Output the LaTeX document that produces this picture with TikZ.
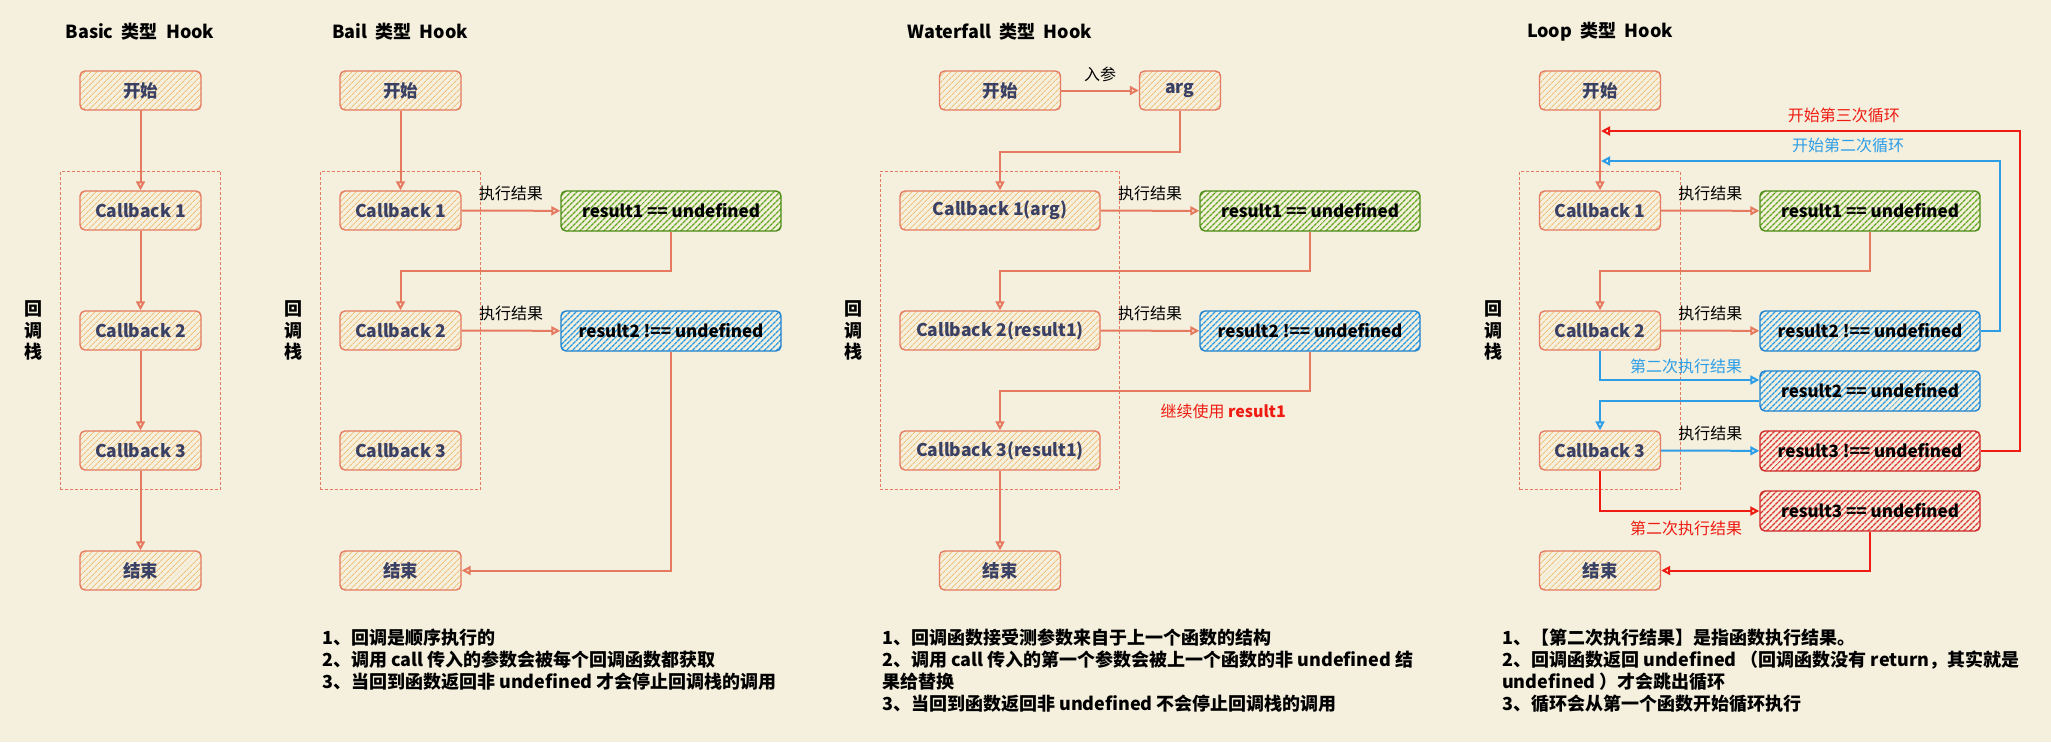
\documentclass[tikz,border=0pt]{standalone}
\usepackage{fontspec}
\setmainfont{Noto Sans CJK SC}
\usetikzlibrary{positioning,fit,patterns.meta,arrows.meta}

\definecolor{paper}{HTML}{F5F0DE}
\definecolor{salmon}{HTML}{E57A60}
\definecolor{hatch}{HTML}{F0BE78}
\definecolor{ink}{HTML}{3A4064}
\definecolor{greenline}{HTML}{4A8A14}
\definecolor{greenhatch}{HTML}{64A822}
\definecolor{blueline}{HTML}{1B80D0}
\definecolor{bluehatch}{HTML}{2A9AE2}
\definecolor{redline}{HTML}{D02626}
\definecolor{redhatch}{HTML}{E03434}
\definecolor{loopred}{HTML}{EE1C12}
\definecolor{loopblue}{HTML}{2D9DE6}

\tikzset{
  hook/.style={draw=salmon, line width=1.4pt, rounded corners=5pt,
    minimum width=121pt, minimum height=39pt, inner sep=0pt,
    pattern={Lines[angle=45,distance=4pt,line width=0.9pt]}, pattern color=hatch,
    text=ink, font=\bfseries\fontsize{17.5}{20}\selectfont},
  result/.style={draw=#1line, line width=1.4pt, rounded corners=5pt,
    minimum width=220pt, minimum height=40pt, inner sep=0pt,
    pattern={Lines[angle=45,distance=4pt,line width=1.5pt]}, pattern color=#1hatch,
    text=black, font=\bfseries\fontsize{17}{20}\selectfont},
  stack/.style={draw=salmon, line width=0.9pt, dash pattern=on 3pt off 2pt,
    inner xsep=19pt, inner ysep=19pt},
  stacklbl/.style={font=\bfseries\fontsize{18}{21.5}\selectfont, align=center},
  title/.style={font=\bfseries\fontsize{18}{20}\selectfont},
  lbl/.style={font=\fontsize{16}{18}\selectfont},
  note/.style={font=\bfseries\fontsize{18}{22}\selectfont, align=left,
    anchor=north west, inner sep=0pt},
  flow/.style={draw=salmon, line width=2pt, -{Triangle[open,length=9pt,width=9pt]}},
}

\begin{document}
\begin{tikzpicture}[x=1pt,y=-1pt]
\useasboundingbox (0,0) rectangle (2051,742);
\fill[paper] (0,0) rectangle (2051,742);

% Basic
\node[title] (At) at (140,32) {Basic\ \ 类型\ \ Hook};
\node[hook] (As) at (140.5,90.5) {开始};
\foreach \i/\y in {1/210.5,2/330.5,3/450.5} {\node[hook] (A\i) at (140.5,\y) {Callback \i};}
\node[hook] (Ae) at (140.5,570.5) {结束};
\node[stack, fit=(A1)(A3)] (Ak) {};
\node[stacklbl] (Al) at ([xshift=-26pt]Ak.west) {回\\调\\栈};
\draw[flow] (As)--(A1);
\draw[flow] (A1)--(A2);
\draw[flow] (A2)--(A3);
\draw[flow] (A3)--(Ae);

% Bail
\node[title] (Bt) at (400,32) {Bail\ \ 类型\ \ Hook};
\node[hook] (Bs) at (400.5,90.5) {开始};
\foreach \i/\y in {1/210.5,2/330.5,3/450.5} {\node[hook] (B\i) at (400.5,\y) {Callback \i};}
\node[hook] (Be) at (400.5,570.5) {结束};
\node[result=green] (Br1) at (671,211) {result1 == undefined};
\node[result=blue] (Br2) at (671,331) {result2 !== undefined};
\node[stack, fit=(B1)(B3)] (Bk) {};
\node[stacklbl] (Bl) at ([xshift=-26pt]Bk.west) {回\\调\\栈};
\draw[flow] (Bs)--(B1);
\draw[flow] (B1)--(Br1) node[lbl, midway, above=6pt] (Bl1) {执行结果};
\draw[flow] (Br1.south) -- ++(0,39) -| (B2.north);
\draw[flow] (B2)--(Br2) node[lbl, midway, above=6pt] (Bl2) {执行结果};
\draw[flow] (Br2.south) |- (Be.east);
\node[note] (Bn) at (322,629) {1、回调是顺序执行的\\2、调用 call 传入的参数会被每个回调函数都获取\\3、当回到函数返回非 undefined 才会停止回调栈的调用};

% Waterfall
\node[title] (Ct) at (1000,32) {Waterfall\ \ 类型\ \ Hook};
\node[hook] (Cs) at (1000,90.5) {开始};
\node[hook, minimum width=81pt] (Ca) at (1180,90.5) {arg};
\foreach \i/\a/\y in {1/arg/210.5,2/result1/330.5,3/result1/450.5} {\node[hook, minimum width=200pt] (C\i) at (1000,\y) {Callback \i(\a)};}
\node[hook] (Ce) at (1000,570.5) {结束};
\node[result=green] (Cr1) at (1310,211) {result1 == undefined};
\node[result=blue] (Cr2) at (1310,331) {result2 !== undefined};
\node[stack, fit=(C1)(C3)] (Ck) {};
\node[stacklbl] (Cl) at ([xshift=-26pt]Ck.west) {回\\调\\栈};
\draw[flow] (Cs)--(Ca) node[lbl, midway, above=4pt] (Cl0) {入参};
\draw[flow] (Ca.south) -- ++(0,41) -| (C1.north);
\draw[flow] (C1)--(Cr1) node[lbl, midway, above=6pt] (Cl1) {执行结果};
\draw[flow] (Cr1.south) -- ++(0,39) -| (C2.north);
\draw[flow] (C2)--(Cr2) node[lbl, midway, above=6pt] (Cl2) {执行结果};
\draw[flow] (Cr2.south) -- ++(0,39) -| node[lbl, pos=0.14, below=9pt, text=loopred] (Cl3) {继续使用 \textbf{result1}} (C3.north);
\draw[flow] (C3)--(Ce);
\node[note] (Cn) at (882,629) {1、回调函数接受测参数来自于上一个函数的结构\\2、调用 call 传入的第一个参数会被上一个函数的非 undefined 结\\果给替换\\3、当回到函数返回非 undefined 不会停止回调栈的调用};

% Loop
\node[title] (Dt) at (1600,32) {Loop\ \ 类型\ \ Hook};
\node[hook] (Ds) at (1600,90.5) {开始};
\foreach \i/\y in {1/210.5,2/330.5,3/450.5} {\node[hook] (D\i) at (1600,\y) {Callback \i};}
\node[hook] (De) at (1600,570.5) {结束};
\node[result=green] (Dr1) at (1870,211) {result1 == undefined};
\node[result=blue] (Dr2) at (1870,331) {result2 !== undefined};
\node[result=blue] (Dr2b) at (1870,391) {result2 == undefined};
\node[result=red] (Dr3) at (1870,451) {result3 !== undefined};
\node[result=red] (Dr3b) at (1870,511) {result3 == undefined};
\node[stack, fit=(D1)(D3)] (Dk) {};
\node[stacklbl] (Dl) at ([xshift=-26pt]Dk.west) {回\\调\\栈};
\coordinate (Dc2) at (1601,161);
\coordinate (Dc3) at (1601,131);
\draw[flow] (Ds)--(D1);
\draw[flow] (D1)--(Dr1) node[lbl, midway, above=6pt] (Dl1) {执行结果};
\draw[flow] (Dr1.south) -- ++(0,39) -| (D2.north);
\draw[flow] (D2)--(Dr2) node[lbl, midway, above=6pt] (Dl2) {执行结果};
\draw[flow, draw=loopblue] (Dr2.east) -- ++(19,0) |- node[lbl, pos=0.69, above=4pt, text=loopblue] (Dl3) {开始第二次循环} (Dc2);
\draw[flow, draw=loopred] (Dr3.east) -- ++(39,0) |- node[lbl, pos=0.71, above=4pt, text=loopred] (Dl4) {开始第三次循环} (Dc3);
\draw[flow, draw=loopblue] (D2.south) |- node[lbl, pos=0.77, above=2pt, text=loopblue] (Dl5) {第二次执行结果} ([yshift=11pt]Dr2b.west);
\draw[flow, draw=loopblue] ([yshift=-10pt]Dr2b.west) -| (D3.north);
\draw[flow, draw=loopblue] (D3)--(Dr3) node[lbl, midway, above=6pt] (Dl6) {执行结果};
\draw[flow, draw=loopred] (D3.south) |- node[lbl, pos=0.77, below=6pt, text=loopred] (Dl7) {第二次执行结果} (Dr3b.west);
\draw[flow, draw=loopred] (Dr3b.south) |- (De.east);
\node[note] (Dn) at (1502,629) {1、【第二次执行结果】是指函数执行结果。\\2、回调函数返回 undefined （回调函数没有 return，其实就是\\undefined ）才会跳出循环\\3、循环会从第一个函数开始循环执行};
\end{tikzpicture}
\end{document}
